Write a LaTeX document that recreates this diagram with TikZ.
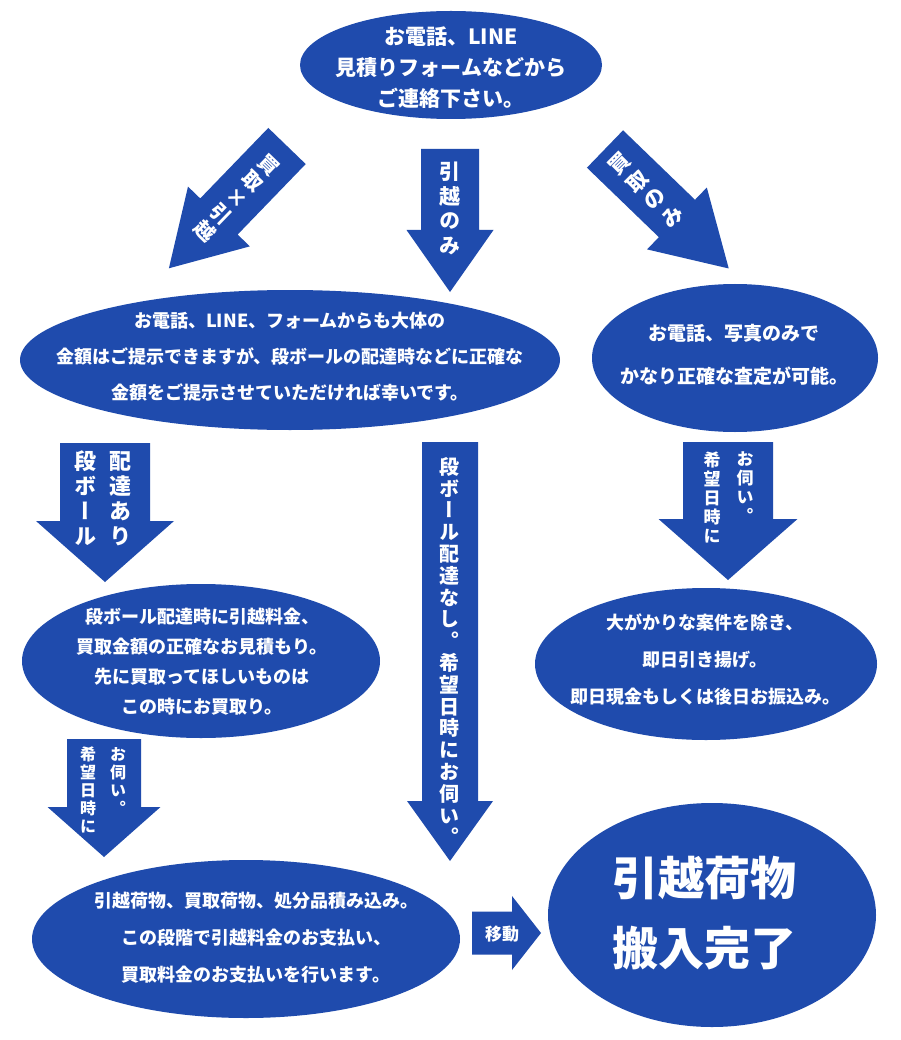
\documentclass[tikz,border=0pt]{standalone}
\usepackage{fontspec}
\usepackage{tikz}
\usetikzlibrary{shapes.geometric}
\newfontfamily\jp{Noto Sans CJK JP}
\newfontfamily\jpv{Noto Sans CJK JP}[RawFeature=+vert]
\definecolor{flowblue}{RGB}{31,75,173}

% block arrow: tail, rotation, length, shaft half width, head half width, head length
\newcommand{\flowarrow}[6]{%
  \fill[flowblue, shift={(#1)}, rotate=#2] (-#4,0) -- (-#4,#3-#6) -- (-#5,#3-#6) -- (0,#3)
    -- (#5,#3-#6) -- (#4,#3-#6) -- (#4,0) -- cycle;}

\begin{document}
\begin{tikzpicture}[
    x=1pt, y=-1pt,
    bubble/.style={ellipse, fill=flowblue, inner sep=0pt},
    msg/.style={text=white, align=center, inner sep=0pt, font=\jp\bfseries\fontsize{18}{#1}\selectfont},
    msg/.default=30,
    vcol/.style={text=white, align=center, inner sep=0pt, anchor=north},
    tilt/.style={text=white, align=center, inner sep=0pt, rotate=#1}
]
\fill[white] (0,0) rectangle (900,1040);
\useasboundingbox (0,0) rectangle (900,1040);

% ellipses
\node[bubble, minimum width=302, minimum height=108] (contact) at (451,65) {};
\node[bubble, minimum width=540, minimum height=140] (estimate) at (290,360) {};
\node[bubble, minimum width=286, minimum height=148] (buyonly) at (735,358) {};
\node[bubble, minimum width=358, minimum height=154] (delivery) at (201,661) {};
\node[bubble, minimum width=342, minimum height=152] (pickup) at (706,664) {};
\node[bubble, minimum width=428, minimum height=158] (loading) at (246,939) {};
\node[bubble, minimum width=328, minimum height=224] (done) at (712,915) {};

\node[msg, font=\jp\bfseries\fontsize{21}{31}\selectfont] (contacttxt) at (451,68) {お電話、LINE\\見積りフォームなどから\\ご連絡下さい。};
\node[msg=36] (estimatetxt) at (290,357) {お電話、LINE、フォームからも大体の\\金額はご提示できますが、段ボールの配達時などに正確な\\金額をご提示させていただければ幸いです。};
\node[msg, font=\jp\bfseries\fontsize{19}{43}\selectfont] (buyonlytxt) at (734,355) {お電話、写真のみで\\かなり正確な査定が可能。};
\node[msg] (deliverytxt) at (202,662) {段ボール配達時に引越料金、\\買取金額の正確なお見積もり。\\先に買取ってほしいものは\\この時にお買取り。};
\node[msg=37] (pickuptxt) at (705,660) {大がかりな案件を除き、\\即日引き揚げ。\\即日現金もしくは後日お振込み。};
\node[msg=37] (loadingtxt) at (256,938) {引越荷物、買取荷物、処分品積み込み。\\この段階で引越料金のお支払い、\\買取料金のお支払いを行います。};
\node[msg, font=\jp\bfseries\fontsize{46}{70}\selectfont] (donetxt) at (704,913) {引越荷物\\搬入完了};

% arrows
\flowarrow{287,146}{-44}{170}{26}{43}{72}
\flowarrow{450,149}{0}{143}{29}{43.5}{62}
\flowarrow{605,149}{46}{172}{26}{43}{72}
\flowarrow{105,443}{0}{139}{45}{69}{61}
\flowarrow{450,442}{0}{419}{28}{43}{60}
\flowarrow{728,442}{0}{138}{45}{69.5}{61}
\flowarrow{104,739}{0}{118}{37}{56.5}{50}
\flowarrow{472,933}{90}{69}{21.5}{37}{29}

% arrow labels
\node[tilt=-44, font=\jp\bfseries\fontsize{20}{23}\selectfont] (buymove) at (237,198) {買\\取\\×\\引\\越};
\node[vcol, font=\jpv\bfseries\fontsize{21}{24.5}\selectfont] (moveonly) at (450,162) {引\\越\\の\\み};
\node[tilt=45, font=\jp\bfseries\fontsize{21}{25}\selectfont] (buyonlyarrow) at (646,190) {買\\取\\の\\み};

\node[vcol, font=\jpv\bfseries\fontsize{22}{25}\selectfont] (boxyes) at (120,451) {配\\達\\あ\\り};
\node[vcol, font=\jpv\bfseries\fontsize{22}{25}\selectfont] (boxyesb) at (85,451) {段\\ボ\\ー\\ル};

\node[vcol, font=\jpv\bfseries\fontsize{20}{21.8}\selectfont] (boxno) at (449,457) {段\\ボ\\ー\\ル\\配\\達\\な\\し\\。\\希\\望\\日\\時\\に\\お\\伺\\い\\。};

\node[vcol, font=\jpv\bfseries\fontsize{17}{19}\selectfont] (visitr) at (745,451.5) {お\\伺\\い\\。};
\node[vcol, font=\jpv\bfseries\fontsize{17}{19}\selectfont] (visitrb) at (712,451.5) {希\\望\\日\\時\\に};

\node[vcol, font=\jpv\bfseries\fontsize{16}{18}\selectfont] (visitl) at (118,747) {お\\伺\\い\\。};
\node[vcol, font=\jpv\bfseries\fontsize{16}{18}\selectfont] (visitlb) at (88,747) {希\\望\\日\\時\\に};

\node[msg, font=\jp\bfseries\fontsize{17}{20}\selectfont] (transfer) at (502,934) {移動};
\end{tikzpicture}
\end{document}
